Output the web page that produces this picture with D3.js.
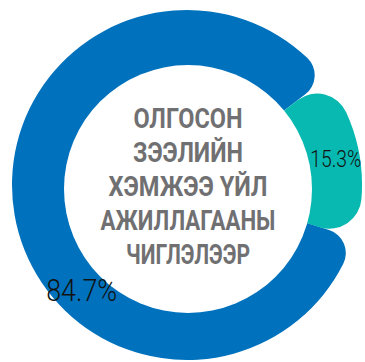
<!DOCTYPE html>
<html>
<head>
<meta charset="utf-8">
<script src="https://cdn.jsdelivr.net/npm/d3@7"></script>
<style>
  html, body { margin: 0; padding: 0; background: #ffffff; }
  svg { display: block; }
</style>
</head>
<body>
<svg id="chart" width="365" height="362"></svg>
<script>
// ---- data ----
const categories = ["Other", "Selected"];
const values = [84.7, 15.3];
const labels = ["84.7%", "15.3%"];
const colors = ["#0071bc", "#07b9b0"];
const titleLines = ["ОЛГОСОН", "ЗЭЭЛИЙН", "ХЭМЖЭЭ ҮЙЛ", "АЖИЛЛАГААНЫ", "ЧИГЛЭЛЭЭР"];

// ---- layout ----
const W = 365, H = 362;
const cx = 187, cy = 185;
const outerR = 175;
const holeR = 124;
const holeDx = 1, holeDy = 4;
const toRad = Math.PI / 180;
const startDeg = 107.6;

const svg = d3.select("#chart");
const g = svg.append("g").attr("transform", `translate(${cx},${cy})`);

const pie = d3.pie().sort(null).value(d => d)
  .startAngle(startDeg * toRad).endAngle(startDeg * toRad + 2 * Math.PI);
const arcs = pie(values);

const cornerR = [24, 32];
g.selectAll("path.slice").data(arcs).join("path")
  .attr("class", "slice")
  .attr("fill", (d, i) => colors[i])
  .attr("d", (d, i) => d3.arc().innerRadius(0).outerRadius(outerR).cornerRadius(cornerR[i])(d));

// white hole
g.append("circle").attr("cx", holeDx).attr("cy", holeDy).attr("r", holeR).attr("fill", "#ffffff");

// helper: horizontally condensed text fitted to a width
function condensedText(parent, str, x, y, size, weight, fill, width, baseline) {
  const holder = parent.append("g").attr("transform", `translate(${x},${y})`);
  const t = holder.append("text")
    .attr("x", 0).attr("y", 0)
    .attr("text-anchor", "middle")
    .attr("font-family", "Roboto, 'Liberation Sans', sans-serif")
    .attr("font-weight", weight)
    .attr("font-size", size)
    .attr("fill", fill)
    .text(str);
  if (baseline) t.attr("dominant-baseline", baseline);
  const natural = t.node().getComputedTextLength();
  const sx = natural > 0 ? width / natural : 1;
  t.attr("transform", `scale(${sx},1)`);
  return holder;
}

// center title
const lineH = 34.2;
const titleWidths = [109, 110, 159, 175, 124];
const firstBaseline = 127.5 - cy;
titleLines.forEach((t, i) => {
  condensedText(g, t, 1, firstBaseline + i * lineH, 28, 700, "#707072", titleWidths[i], null);
});

// value labels
const labelAngleDeg = [225, null]; // null => slice centroid angle
const labelRadius = [149, 151];
const labelSize = [31, 24];
const labelWidth = [71, 51];
arcs.forEach((d, i) => {
  const a = labelAngleDeg[i] != null ? labelAngleDeg[i] * toRad : (d.startAngle + d.endAngle) / 2;
  const x = labelRadius[i] * Math.sin(a);
  const y = -labelRadius[i] * Math.cos(a);
  condensedText(g, labels[i], x, y, labelSize[i], 300, "#111111", labelWidth[i], "central");
});
</script>
</body>
</html>
